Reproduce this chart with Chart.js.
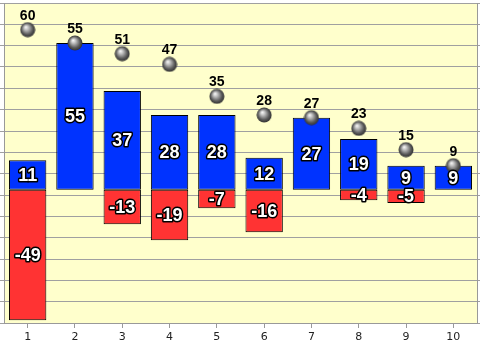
<!DOCTYPE html>
<html>
<head>
<meta charset="utf-8">
<script src="https://cdn.jsdelivr.net/npm/chart.js@4/dist/chart.umd.min.js"></script>
<style>
  html, body { margin: 0; padding: 0; background: #ffffff; }
  #wrap { width: 480px; height: 346px; }
</style>
</head>
<body>
<div id="wrap"><canvas id="chart" width="480" height="346"></canvas></div>
<script>
const categories = ['1', '2', '3', '4', '5', '6', '7', '8', '9', '10'];
const positiveValues = [11, 55, 37, 28, 28, 12, 27, 19, 9, 9];
const negativeValues = [-49, null, -13, -19, -7, -16, null, -4, -5, null];
const totalValues = [60, 55, 51, 47, 35, 28, 27, 23, 15, 9];

// gray sphere used as point marker
function makeSphere(size) {
    const c = document.createElement('canvas');
    c.width = size;
    c.height = size;
    const g = c.getContext('2d');
    const r = size / 2;
    const grad = g.createRadialGradient(r * 0.75, r * 0.65, 0, r, r, r);
    grad.addColorStop(0, '#ffffff');
    grad.addColorStop(0.25, '#c8c8c8');
    grad.addColorStop(0.7, '#5a5a5a');
    grad.addColorStop(1, '#2a2a2a');
    g.fillStyle = grad;
    g.beginPath();
    g.arc(r, r, r - 0.5, 0, Math.PI * 2);
    g.fill();
    return c;
}
const sphere = makeSphere(16);

const backgroundPlugin = {
    id: 'plotBackground',
    beforeDraw(chart) {
        const { ctx, chartArea } = chart;
        ctx.save();
        ctx.fillStyle = '#ffffcc';
        ctx.fillRect(chartArea.left, chartArea.top, chartArea.right - chartArea.left, chartArea.bottom - chartArea.top);
        ctx.restore();
    }
};

const labelPlugin = {
    id: 'valueLabels',
    afterDatasetsDraw(chart) {
        const ctx = chart.ctx;
        ctx.save();
        ctx.textAlign = 'center';
        ctx.textBaseline = 'middle';

        // totals above the spheres
        const lineMeta = chart.getDatasetMeta(2);
        ctx.font = 'bold 14px "Liberation Sans", Arial, sans-serif';
        ctx.fillStyle = '#000000';
        lineMeta.data.forEach((pt, i) => {
            ctx.fillText(String(totalValues[i]), pt.x, pt.y - 14);
        });

        // values inside the bars, white with a black outline
        ctx.font = 'bold 18px "Liberation Sans", Arial, sans-serif';
        ctx.lineJoin = 'round';
        ctx.lineWidth = 3;
        ctx.strokeStyle = '#000000';
        ctx.fillStyle = '#ffffff';
        [0, 1].forEach(di => {
            const meta = chart.getDatasetMeta(di);
            const values = chart.data.datasets[di].data;
            meta.data.forEach((bar, i) => {
                if (values[i] === null) return;
                const cy = (bar.y + bar.base) / 2 + 1;
                ctx.strokeText(String(values[i]), bar.x, cy);
                ctx.fillText(String(values[i]), bar.x, cy);
            });
        });
        ctx.restore();
    }
};

const ctx = document.getElementById('chart').getContext('2d');
new Chart(ctx, {
    data: {
        labels: categories,
        datasets: [
            {
                type: 'bar',
                data: positiveValues,
                backgroundColor: '#0033ff',
                borderColor: '#000000',
                borderWidth: 1,
                borderSkipped: false,
                categoryPercentage: 1,
                barPercentage: 0.79,
                stack: 'bars',
                order: 2
            },
            {
                type: 'bar',
                data: negativeValues,
                backgroundColor: '#ff3333',
                borderColor: '#000000',
                borderWidth: 1,
                borderSkipped: false,
                categoryPercentage: 1,
                barPercentage: 0.79,
                stack: 'bars',
                order: 2
            },
            {
                type: 'line',
                data: totalValues,
                showLine: false,
                pointStyle: sphere,
                pointRadius: 8,
                stack: 'totals',
                order: 1,
                clip: false
            }
        ]
    },
    options: {
        responsive: false,
        animation: false,
        layout: { autoPadding: false, padding: { top: 3, right: 0, left: 0, bottom: 0 } },
        plugins: {
            legend: { display: false },
            tooltip: { enabled: false }
        },
        scales: {
            x: {
                stacked: true,
                afterFit: s => { s.height = 23; },
                grid: {
                    offset: false,
                    drawOnChartArea: false,
                    tickLength: 5,
                    color: '#999999'
                },
                border: { color: '#999999' },
                ticks: {
                    autoSkip: false,
                    maxRotation: 0,
                    padding: 3,
                    color: '#222222',
                    font: { family: '"DejaVu Sans", Verdana, sans-serif', size: 11 }
                }
            },
            y: {
                stacked: true,
                min: -50,
                max: 70,
                afterFit: s => { s.width = 4; },
                ticks: { stepSize: 8, display: false },
                grid: { color: '#a0a0a0', tickLength: 4 },
                border: { color: '#999999' }
            },
            y2: {
                position: 'right',
                min: -50,
                max: 70,
                afterFit: s => { s.width = 3; },
                ticks: { stepSize: 8, display: false },
                grid: { drawOnChartArea: false, color: '#a0a0a0', tickLength: 3 },
                border: { color: '#999999' }
            }
        }
    },
    plugins: [backgroundPlugin, labelPlugin]
});
</script>
</body>
</html>
